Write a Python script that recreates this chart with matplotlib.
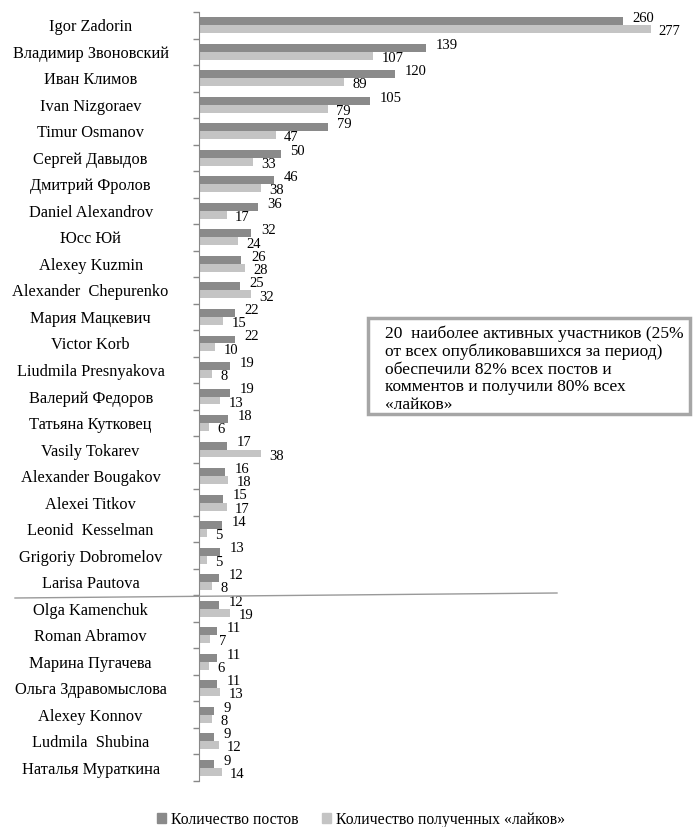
import matplotlib
matplotlib.use('Agg')
import matplotlib.pyplot as plt
from matplotlib.lines import Line2D
from matplotlib.patches import Patch
import numpy as np

plt.rcParams['font.family'] = ['Liberation Serif', 'DejaVu Serif']

# Data
names = [
    'Igor Zadorin', 'Владимир Звоновский', 'Иван Климов', 'Ivan Nizgoraev',
    'Timur Osmanov', 'Сергей Давыдов', 'Дмитрий Фролов', 'Daniel Alexandrov',
    'Юсс Юй', 'Alexey Kuzmin', 'Alexander  Chepurenko', 'Мария Мацкевич',
    'Victor Korb', 'Liudmila Presnyakova', 'Валерий Федоров',
    'Татьяна Кутковец', 'Vasily Tokarev', 'Alexander Bougakov',
    'Alexei Titkov', 'Leonid  Kesselman', 'Grigoriy Dobromelov',
    'Larisa Pautova', 'Olga Kamenchuk', 'Roman Abramov', 'Марина Пугачева',
    'Ольга Здравомыслова', 'Alexey Konnov', 'Ludmila  Shubina',
    'Наталья Мураткина',
]
posts = [260, 139, 120, 105, 79, 50, 46, 36, 32, 26, 25, 22, 22, 19, 19, 18,
         17, 16, 15, 14, 13, 12, 12, 11, 11, 11, 9, 9, 9]
likes = [277, 107, 89, 79, 47, 33, 38, 17, 24, 28, 32, 15, 10, 8, 13, 6,
         38, 18, 17, 5, 5, 8, 19, 7, 6, 13, 8, 12, 14]
legend_labels = ['Количество постов', 'Количество полученных «лайков»']
note = ('20  наиболее активных участников (25%\n'
        'от всех опубликовавшихся за период)\n'
        'обеспечили 82% всех постов и\n'
        'комментов и получили 80% всех\n'
        '«лайков»')

c_posts = '#8a8a8a'
c_likes = '#c4c4c4'

W, H = 693, 827
fig = plt.figure(figsize=(W / 100, H / 100), dpi=100)
ax = fig.add_axes([199 / W, 1 - 781 / H, (688 - 199) / W, (781 - 12) / H])

n = len(names)
y = np.arange(n)
bh = 0.3
ax.barh(y - bh / 2, posts, height=bh, color=c_posts)
ax.barh(y + bh / 2, likes, height=bh, color=c_likes)

# value labels, nudged apart a little so the pairs stay readable
for i in range(n):
    ax.annotate(str(posts[i]), (posts[i], y[i] - bh / 2 - 0.1),
                xytext=(7, 0), textcoords='offset points',
                va='center', ha='left', fontsize=10.5)
    ax.annotate(str(likes[i]), (likes[i], y[i] + bh / 2 + 0.1),
                xytext=(6, 0), textcoords='offset points',
                va='center', ha='left', fontsize=10.5)

ax.set_xlim(0, 300)
ax.set_ylim(n - 0.5, -0.5)
ax.set_yticks(y)
ax.set_yticklabels(names, ha='center', fontsize=11.8)
ax.tick_params(axis='y', which='major', length=0, pad=78)
ax.set_yticks(np.arange(-0.5, n, 1), minor=True)
ax.tick_params(axis='y', which='minor', length=4, width=1, color='#888888',
               direction='out')
ax.set_xticks([])
for s in ['top', 'right', 'bottom']:
    ax.spines[s].set_visible(False)
ax.spines['left'].set_color('#888888')

# separator line after the top group
fig.add_artist(Line2D([15 / W, 557 / W], [1 - 598 / H, 1 - 593 / H],
                      transform=fig.transFigure, color='#999999', lw=1))

# note box
fig.text(385 / W, 1 - 326 / H, note, ha='left', va='top', fontsize=12.5,
         linespacing=1.12)
fig.add_artist(plt.Rectangle((368 / W, 1 - 414 / H), (690 - 368) / W,
                             (414 - 318) / H, transform=fig.transFigure,
                             fill=False, edgecolor='#a6a6a6', lw=2.5))

handles = [Patch(color=c_posts), Patch(color=c_likes)]
fig.legend(handles, legend_labels, loc='center', ncol=2, frameon=False,
           bbox_to_anchor=(361 / W, 1 - 820 / H), fontsize=11.3,
           handlelength=0.6, handleheight=0.6, handletextpad=0.3,
           columnspacing=1.5, borderpad=0)

fig.savefig('out.png', dpi=100)
